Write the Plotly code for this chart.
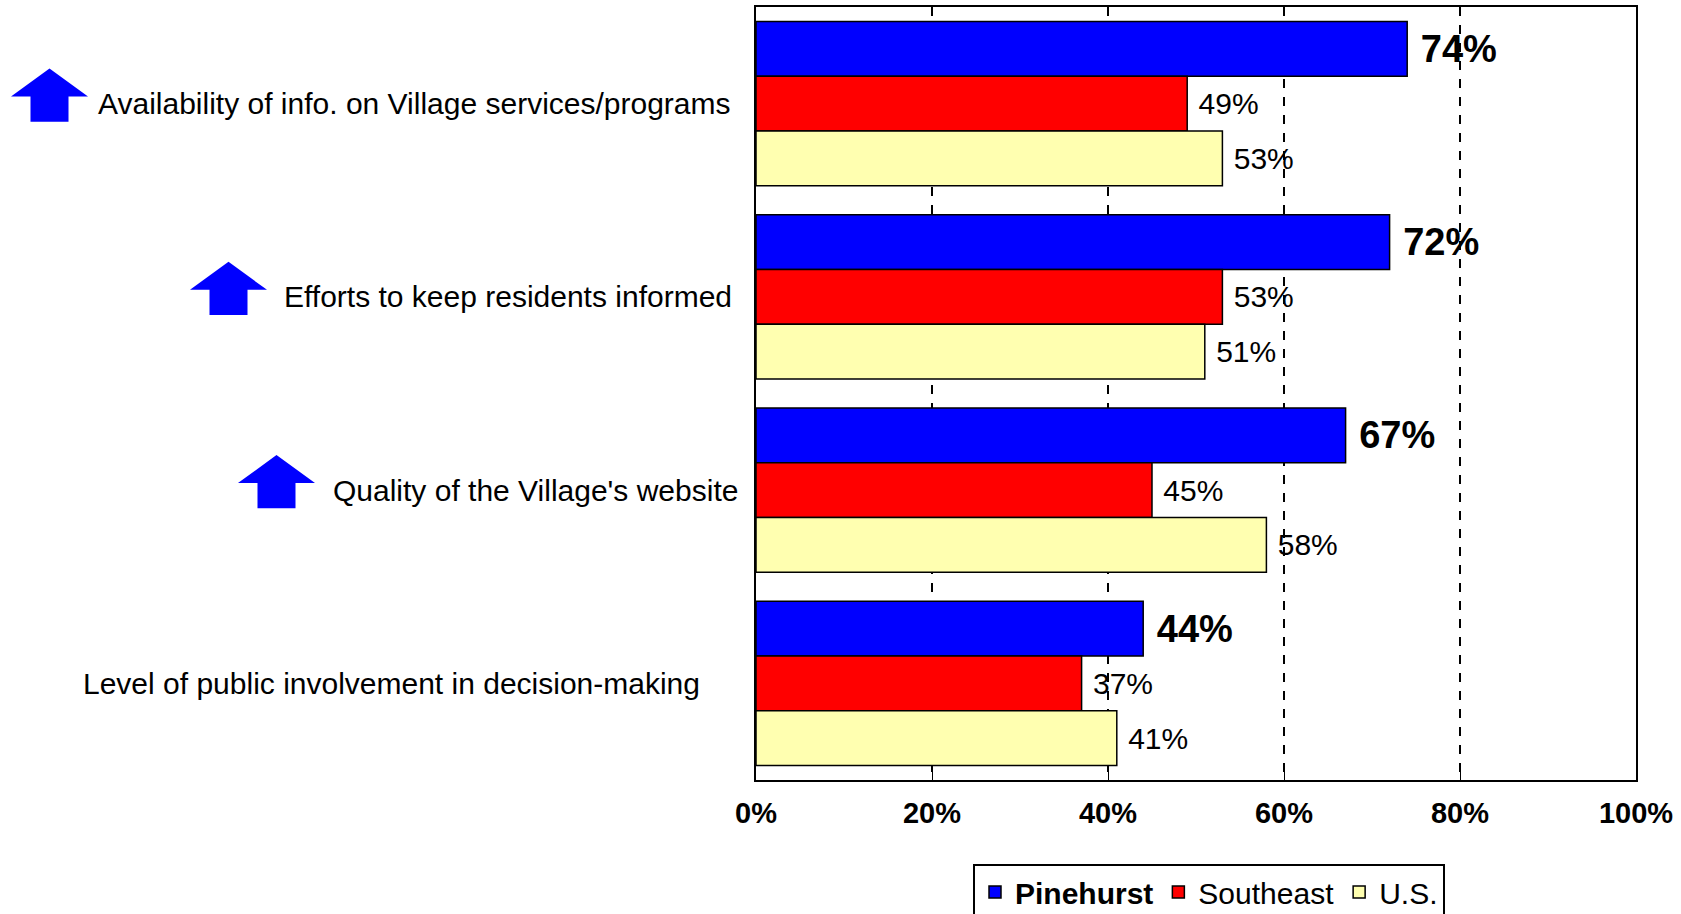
import plotly.graph_objects as go

# data
categories = [
    "Availability of info. on Village services/programs",
    "Efforts to keep residents informed",
    "Quality of the Village's website",
    "Level of public involvement in decision-making",
]
pinehurst = [74, 72, 67, 44]
southeast = [49, 53, 45, 37]
us = [53, 51, 58, 41]
has_arrow = [True, True, True, False]
tick_vals = [0, 20, 40, 60, 80, 100]
tick_text = ["0%", "20%", "40%", "60%", "80%", "100%"]

W, H = 1681, 914
L, R, T, B = 756, 45, 7, 134
PW, PH = W - L - R, H - T - B
FONT = "Liberation Sans, Arial, sans-serif"


def px(x):
    return (x - L) / PW


def py(y):
    return 1 - (y - T) / PH


def labels(vals):
    return [f" {v}%" for v in vals]


fig = go.Figure()
fig.add_trace(go.Bar(y=categories, x=pinehurst, name="<b>Pinehurst</b>", orientation="h",
                     marker=dict(color="#0000FF", line=dict(color="black", width=1.5)),
                     text=labels(pinehurst), texttemplate="<b>%{text}</b>", textposition="outside",
                     textfont=dict(size=38, color="black", family=FONT), cliponaxis=False,
                     constraintext="none"))
fig.add_trace(go.Bar(y=categories, x=southeast, name="Southeast", orientation="h",
                     marker=dict(color="#FF0000", line=dict(color="black", width=1.5)),
                     text=labels(southeast), texttemplate="%{text}", textposition="outside",
                     textfont=dict(size=30, color="black", family=FONT), cliponaxis=False,
                     constraintext="none"))
fig.add_trace(go.Bar(y=categories, x=us, name="U.S.", orientation="h",
                     marker=dict(color="#FFFFB0", line=dict(color="black", width=1.5)),
                     text=labels(us), texttemplate="%{text}", textposition="outside",
                     textfont=dict(size=30, color="black", family=FONT), cliponaxis=False,
                     constraintext="none"))

# category labels + arrows on the left
label_right = [733, 734, 740, 702]
arrow_left = [11, 190, 238]
shapes = []
annotations = []
for i, cat in enumerate(categories):
    cy = T + (i + 0.5) * PH / len(categories)
    annotations.append(dict(x=px(label_right[i]), y=py(cy), xref="paper", yref="paper",
                            text=cat, showarrow=False, xanchor="right", yanchor="middle",
                            font=dict(size=30, color="black", family=FONT)))
    if has_arrow[i]:
        a = arrow_left[i]
        w, sw = 77, 38
        top, base, bot = cy - 35, cy - 7, cy + 18
        s0 = a + (w - sw) / 2
        pts = [(a + w / 2, top), (a + w, base), (s0 + sw, base), (s0 + sw, bot),
               (s0, bot), (s0, base), (a, base)]
        path = "M " + " L ".join(f"{px(x):.5f},{py(y):.5f}" for x, y in pts) + " Z"
        shapes.append(dict(type="path", path=path, xref="paper", yref="paper",
                           fillcolor="#0000FF", line=dict(width=0)))

fig.update_layout(
    width=W, height=H,
    margin=dict(l=L, r=R, t=T, b=B, autoexpand=False),
    plot_bgcolor="white", paper_bgcolor="white",
    barmode="group", bargap=0.15, bargroupgap=0,
    font=dict(family=FONT, color="black"),
    shapes=shapes, annotations=annotations,
    legend=dict(orientation="h", x=px(1209), xanchor="center", y=py(864), yanchor="top",
                bordercolor="black", borderwidth=2, font=dict(size=30, family=FONT),
                traceorder="normal"),
    xaxis=dict(range=[0, 100], tickvals=tick_vals, ticktext=tick_text,
               tickfont=dict(size=29, family=FONT, color="black", weight="bold"),
               showgrid=True, gridcolor="black", griddash="dash", gridwidth=1.5,
               showline=True, linecolor="black", linewidth=2, mirror=True,
               ticks="inside", ticklen=8, tickcolor="black", zeroline=False,
               ticklabelstandoff=6),
    yaxis=dict(categoryorder="array", categoryarray=categories, autorange="reversed",
               showticklabels=False, showline=True, linecolor="black", linewidth=2,
               mirror=True, showgrid=False, ticks=""),
)

fig.write_html("out.html", config={"displayModeBar": False},
               post_script="document.body.style.margin='0';")
